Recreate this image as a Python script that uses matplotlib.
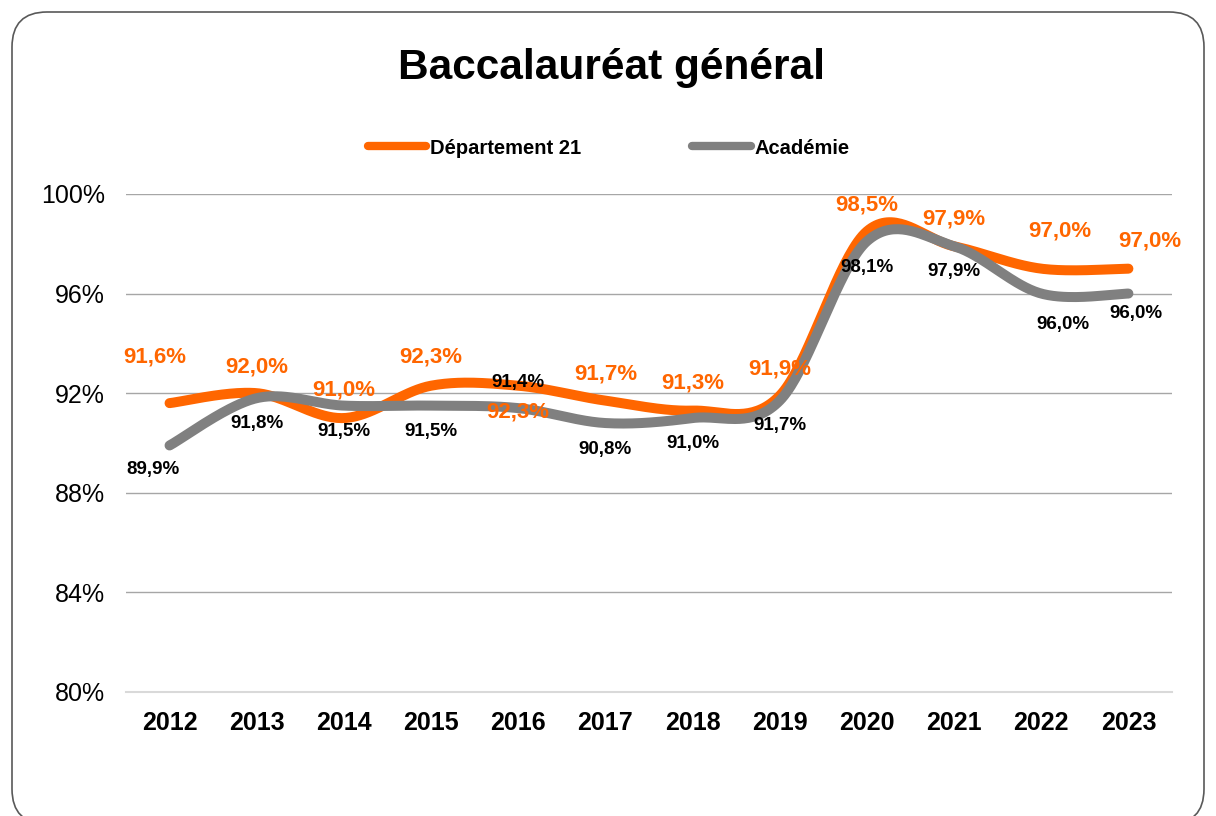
import matplotlib.pyplot as plt
import numpy as np
from matplotlib.patches import FancyBboxPatch
from matplotlib.lines import Line2D

plt.rcParams['font.family'] = ['Liberation Sans', 'DejaVu Sans']

years = ['2012', '2013', '2014', '2015', '2016', '2017',
         '2018', '2019', '2020', '2021', '2022', '2023']
dep21 = [91.6, 92.0, 91.0, 92.3, 92.3, 91.7, 91.3, 91.9, 98.5, 97.9, 97.0, 97.0]
academie = [89.9, 91.8, 91.5, 91.5, 91.4, 90.8, 91.0, 91.7, 98.1, 97.9, 96.0, 96.0]

# decalage des etiquettes (pixels, x vers la droite, y vers le bas)
dep21_off = [(-15, -46), (0, -26), (0, -28), (0, -29), (0, 26), (0, -27),
             (0, -28), (0, -27), (0, -26), (0, -27), (19, -38), (21, -28)]
acad_off = [(-17, 24), (0, 25), (0, 26), (0, 26), (0, -26), (0, 26),
            (0, 25), (0, 25), (0, 26), (0, 25), (22, 31), (8, 20)]

ORANGE = '#FF6600'
GREY = '#808080'


def smooth(x, y, n=40):
    '''lissage type Excel (bezier / catmull-rom)'''
    pts = np.column_stack([x, y]).astype(float)
    out = []
    for i in range(len(pts) - 1):
        p0 = pts[i - 1] if i > 0 else pts[i]
        p1 = pts[i]
        p2 = pts[i + 1]
        p3 = pts[i + 2] if i + 2 < len(pts) else pts[i + 1]
        c1 = p1 + (p2 - p0) / 6
        c2 = p2 - (p3 - p1) / 6
        t = np.linspace(0, 1, n)[:, None]
        seg = ((1 - t) ** 3) * p1 + 3 * ((1 - t) ** 2) * t * c1 + 3 * (1 - t) * t ** 2 * c2 + t ** 3 * p2
        out.append(seg if i == 0 else seg[1:])
    s = np.vstack(out)
    return s[:, 0], s[:, 1]


fig = plt.figure(figsize=(12.16, 8.16), dpi=100)
ax = fig.add_axes([0.1036, 0.152, 0.8602, 0.6103])

x = np.arange(len(years))
xs, ys = smooth(x, dep21)
ax.plot(xs, ys, color=ORANGE, lw=7.2, solid_capstyle='round', zorder=3)
xs, ys = smooth(x, academie)
ax.plot(xs, ys, color=GREY, lw=7.2, solid_capstyle='round', zorder=4)

for i, v in enumerate(dep21):
    dx, dy = dep21_off[i]
    ax.annotate(f'{v:.1f}%'.replace('.', ','), (x[i], v), xytext=(dx * 0.72, -dy * 0.72),
                textcoords='offset points', ha='center', va='center',
                color=ORANGE, fontsize=16, fontweight='bold', zorder=5)
for i, v in enumerate(academie):
    dx, dy = acad_off[i]
    ax.annotate(f'{v:.1f}%'.replace('.', ','), (x[i], v), xytext=(dx * 0.72, -dy * 0.72),
                textcoords='offset points', ha='center', va='center',
                color='black', fontsize=13.5, fontweight='bold', zorder=5)

ax.set_xlim(-0.5, len(years) - 0.5)
ax.set_ylim(80, 100)
ax.set_yticks([80, 84, 88, 92, 96, 100])
ax.set_yticklabels(['80%', '84%', '88%', '92%', '96%', '100%'], fontsize=18)
ax.set_xticks(x)
ax.set_xticklabels(years, fontsize=18, fontweight='bold')
ax.tick_params(length=0)
ax.tick_params(axis='y', pad=15)
ax.tick_params(axis='x', pad=14)
ax.grid(axis='y', color='#A6A6A6', lw=1)
ax.set_axisbelow(True)
for s in ['top', 'right', 'left']:
    ax.spines[s].set_visible(False)
ax.spines['bottom'].set_color('#D9D9D9')
ax.spines['bottom'].set_linewidth(1.5)

fig.text(612 / 1216, 1 - 68 / 816, 'Baccalauréat général', ha='center', va='center',
         fontsize=30.5, fontweight='bold')

handles = [Line2D([], [], color=ORANGE, lw=6, solid_capstyle='round'),
           Line2D([], [], color=GREY, lw=6, solid_capstyle='round')]
fig.legend(handles, ['Département 21', 'Académie'], loc='center',
           bbox_to_anchor=(609 / 1216, 1 - 148 / 816), ncol=2, frameon=False,
           prop={'weight': 'bold', 'size': 14.5}, handlelength=2.9,
           handletextpad=0.2, columnspacing=5.5)

frame = FancyBboxPatch((0.12, -0.08), 11.92, 8.12, boxstyle='round,pad=0,rounding_size=0.35',
                       transform=fig.dpi_scale_trans, facecolor='none',
                       edgecolor='#595959', lw=1.2)
fig.patches.append(frame)

plt.savefig('out.png', dpi=100)
